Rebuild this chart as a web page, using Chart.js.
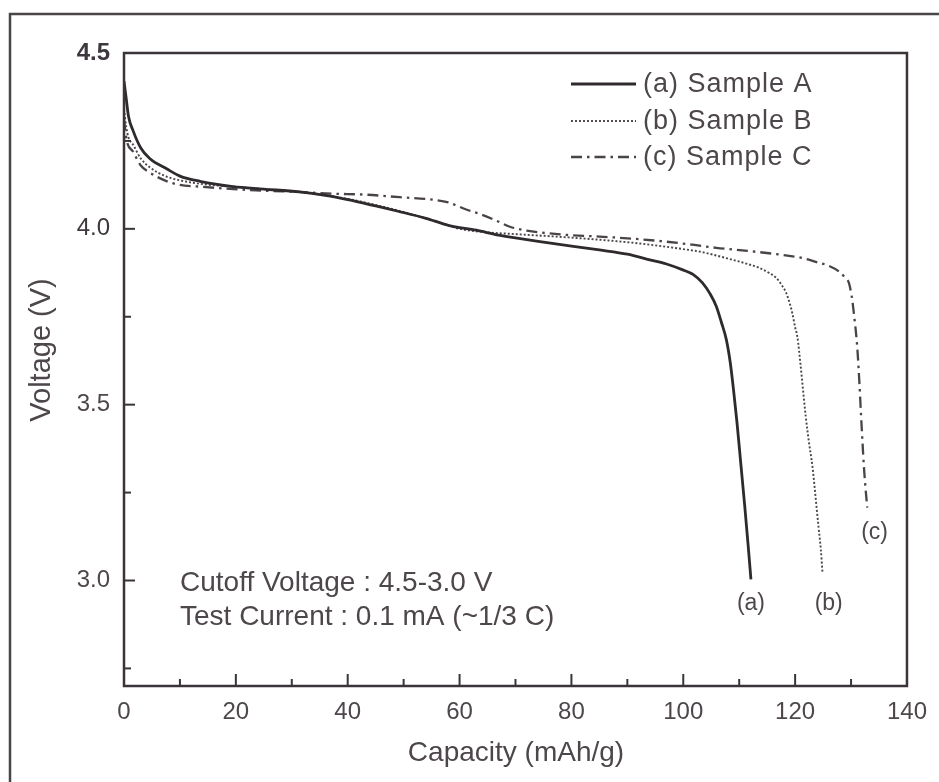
<!DOCTYPE html>
<html>
<head>
<meta charset="utf-8">
<script src="https://cdn.jsdelivr.net/npm/chart.js@4.4.0/dist/chart.umd.min.js"></script>
<style>
  html, body { margin: 0; padding: 0; background: #fff; }
  #wrap { width: 939px; height: 782px; }
</style>
</head>
<body>
<div id="wrap"><canvas id="chart" width="939" height="782"></canvas></div>
<script>
// discharge curves (capacity mAh/g, voltage V)
const capA = [0, 0.4, 0.8, 1.6, 3, 4.6, 7.7, 10, 13.6, 19.5, 25, 31.4, 36, 40, 45, 49, 54, 58, 63, 67, 75, 85, 90, 94, 97, 99.8, 101.8, 103.4, 104.8, 105.9, 106.8, 107.7, 108.4, 109, 109.6, 110.3, 111, 111.6, 112.1];
const voltA = [4.42, 4.37, 4.32, 4.28, 4.23, 4.2, 4.17, 4.15, 4.135, 4.12, 4.113, 4.105, 4.095, 4.083, 4.065, 4.05, 4.03, 4.01, 3.996, 3.982, 3.962, 3.94, 3.928, 3.912, 3.9, 3.884, 3.87, 3.847, 3.815, 3.78, 3.735, 3.685, 3.62, 3.54, 3.45, 3.33, 3.21, 3.1, 3.003];

const capB = [0, 0.4, 0.8, 1.6, 3, 4.6, 7.7, 10, 13.6, 19.5, 25, 31.4, 40, 49, 56, 60, 65, 70, 80, 90, 94, 101, 103, 108.8, 111.5, 113.6, 115.3, 116.6, 117.6, 118.4, 119, 119.5, 120, 120.4, 121, 121.9, 122.5, 123.1, 123.7, 124.2, 124.6, 124.9];
const voltB = [4.34, 4.29, 4.26, 4.24, 4.2, 4.175, 4.148, 4.138, 4.128, 4.12, 4.113, 4.105, 4.085, 4.052, 4.02, 4.0, 3.99, 3.985, 3.975, 3.962, 3.955, 3.94, 3.935, 3.912, 3.9, 3.889, 3.875, 3.861, 3.84, 3.818, 3.79, 3.76, 3.72, 3.693, 3.608, 3.466, 3.39, 3.324, 3.23, 3.15, 3.088, 3.02];

const capC = [0, 0.5, 1.6, 3, 4.6, 7.7, 10, 13.6, 19.5, 25.5, 31, 37.3, 43.4, 49.3, 55.2, 58, 61.2, 64, 67, 69, 72, 79, 85, 90.9, 96, 101.6, 105.9, 111, 117.7, 121, 123.7, 126, 127.9, 129, 129.6, 130.1, 130.5, 131.1, 131.5, 131.8, 132.3, 132.6, 132.9];
const voltC = [4.31, 4.25, 4.22, 4.18, 4.16, 4.135, 4.125, 4.12, 4.113, 4.108, 4.105, 4.1, 4.097, 4.09, 4.083, 4.075, 4.055, 4.04, 4.02, 4.006, 3.995, 3.983, 3.978, 3.972, 3.965, 3.955, 3.946, 3.938, 3.926, 3.918, 3.906, 3.895, 3.878, 3.86, 3.847, 3.81, 3.76, 3.665, 3.56, 3.466, 3.324, 3.26, 3.207];

const seriesNames = ['(a) Sample A', '(b) Sample B', '(c) Sample C'];
const curveTags = ['(a)', '(b)', '(c)'];
const xTicks = [0, 10, 20, 30, 40, 50, 60, 70, 80, 90, 100, 110, 120, 130, 140];
const yTicks = [2.75, 3.0, 3.25, 3.5, 3.75, 4.0, 4.25, 4.5];
const notes = ['Cutoff Voltage : 4.5-3.0 V', 'Test Current : 0.1 mA (~1/3 C)'];

const INK = '#3a3338';
const TEXT = '#4d474c';
const FONT = "'Liberation Sans', Arial, sans-serif";

function pairs(xs, ys) {
    return xs.map((x, i) => ({ x: x, y: ys[i] }));
}

// outer frame, plot box, inward ticks, legend and notes
const paperPlugin = {
    id: 'paper',
    beforeDraw(chart) {
        const ctx = chart.ctx;
        ctx.save();
        ctx.fillStyle = '#fff';
        ctx.fillRect(0, 0, chart.width, chart.height);
        ctx.strokeStyle = '#4a4549';
        ctx.lineWidth = 2.5;
        ctx.beginPath();
        ctx.moveTo(10, chart.height);
        ctx.lineTo(10, 14);
        ctx.lineTo(chart.width, 14);
        ctx.stroke();
        ctx.restore();
    },
    afterDraw(chart) {
        const { ctx, chartArea: a, scales: { x, y } } = chart;
        ctx.save();
        ctx.strokeStyle = INK;
        ctx.lineWidth = 2.5;
        ctx.setLineDash([]);
        ctx.strokeRect(a.left, a.top, a.right - a.left, a.bottom - a.top);

        ctx.lineWidth = 2;
        xTicks.forEach(v => {
            const px = x.getPixelForValue(v);
            const len = v % 20 === 0 ? 12 : 7;
            ctx.beginPath();
            ctx.moveTo(px, a.bottom);
            ctx.lineTo(px, a.bottom - len);
            ctx.stroke();
        });
        yTicks.forEach(v => {
            const py = y.getPixelForValue(v);
            const len = Math.abs(v * 2 - Math.round(v * 2)) < 1e-6 ? 11 : 7;
            ctx.beginPath();
            ctx.moveTo(a.left, py);
            ctx.lineTo(a.left + len, py);
            ctx.stroke();
        });

        // legend
        ctx.font = '27px ' + FONT;
        ctx.letterSpacing = '1px';
        ctx.textBaseline = 'middle';
        ctx.textAlign = 'left';
        const legY = [84, 121, 157];
        chart.data.datasets.forEach((ds, i) => {
            ctx.strokeStyle = ds.borderColor;
            ctx.lineWidth = ds.borderWidth;
            ctx.setLineDash(ds.borderDash || []);
            ctx.beginPath();
            ctx.moveTo(571, legY[i]);
            ctx.lineTo(636, legY[i]);
            ctx.stroke();
            ctx.fillStyle = TEXT;
            ctx.fillText(ds.label, 643, legY[i] + 1);
        });
        ctx.setLineDash([]);
        ctx.letterSpacing = '0px';

        // curve tags at the ends
        ctx.font = '23px ' + FONT;
        ctx.textAlign = 'center';
        const tagPos = [[112.1, 2.935], [126.0, 2.935], [134.2, 3.135]];
        curveTags.forEach((t, i) => {
            ctx.fillText(t, x.getPixelForValue(tagPos[i][0]), y.getPixelForValue(tagPos[i][1]));
        });

        // test conditions
        ctx.font = '28px ' + FONT;
        ctx.textAlign = 'left';
        ctx.textBaseline = 'alphabetic';
        ctx.fillText(notes[0], 180, 591);
        ctx.fillText(notes[1], 180, 625);

        // axis titles
        ctx.textAlign = 'center';
        ctx.textBaseline = 'middle';
        ctx.fillText('Capacity (mAh/g)', 516, 753);
        ctx.translate(42, 350);
        ctx.rotate(-Math.PI / 2);
        ctx.font = '29px ' + FONT;
        ctx.fillText('Voltage (V)', 0, 0);
        ctx.restore();
    }
};

const ctx = document.getElementById('chart').getContext('2d');
new Chart(ctx, {
    type: 'line',
    data: {
        datasets: [
            {
                label: seriesNames[0],
                data: pairs(capA, voltA),
                borderColor: '#2e2a2e',
                borderWidth: 2.8,
                pointRadius: 0,
                cubicInterpolationMode: 'monotone'
            },
            {
                label: seriesNames[1],
                data: pairs(capB, voltB),
                borderColor: '#4c464b',
                borderWidth: 1.9,
                borderDash: [2, 2],
                pointRadius: 0,
                cubicInterpolationMode: 'monotone'
            },
            {
                label: seriesNames[2],
                data: pairs(capC, voltC),
                borderColor: '#4a4449',
                borderWidth: 2.3,
                borderDash: [11, 5, 2.5, 5],
                pointRadius: 0,
                cubicInterpolationMode: 'monotone'
            }
        ]
    },
    options: {
        responsive: false,
        devicePixelRatio: 1,
        animation: false,
        layout: { padding: { top: 53, right: 31, left: 0, bottom: 0 } },
        plugins: {
            legend: { display: false },
            tooltip: { enabled: false }
        },
        scales: {
            x: {
                type: 'linear',
                min: 0,
                max: 140,
                grid: { display: false, drawTicks: false },
                border: { display: false },
                afterBuildTicks: s => { s.ticks = xTicks.map(v => ({ value: v })); },
                afterFit: s => { s.height = 96; },
                ticks: {
                    autoSkip: false,
                    maxRotation: 0,
                    padding: 12,
                    color: TEXT,
                    font: { family: FONT, size: 24 },
                    callback: v => (v % 20 === 0 ? String(v) : '')
                }
            },
            y: {
                type: 'linear',
                min: 2.7,
                max: 4.5,
                grid: { display: false, drawTicks: false },
                border: { display: false },
                afterBuildTicks: s => { s.ticks = yTicks.map(v => ({ value: v })); },
                afterFit: s => { s.width = 124; },
                ticks: {
                    autoSkip: false,
                    padding: 14,
                    color: c => (c.tick && c.tick.value >= 4.0 ? '#3e373d' : TEXT),
                    font: c => ({ family: FONT, size: 24, weight: c.tick && c.tick.value === 4.5 ? 'bold' : 'normal' }),
                    callback: v => (Math.abs(v * 2 - Math.round(v * 2)) < 1e-6 ? v.toFixed(1) : '')
                }
            }
        }
    },
    plugins: [paperPlugin]
});
</script>
</body>
</html>
